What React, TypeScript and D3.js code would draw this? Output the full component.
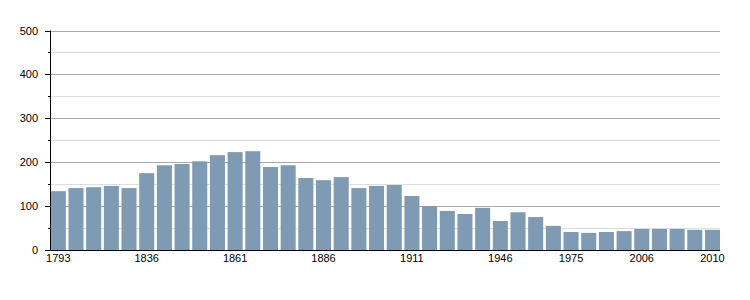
import React from "react";
import * as d3 from "d3";

const years = [
  "1793", "1800", "1806", "1821", "1831", "1836", "1841", "1846", "1851", "1856",
  "1861", "1866", "1872", "1876", "1881", "1886", "1891", "1896", "1901", "1906",
  "1911", "1921", "1926", "1931", "1936", "1946", "1954", "1962", "1968", "1975",
  "1982", "1990", "1999", "2006", "2007", "2008", "2009", "2010",
];
const population = [
  134, 141, 143, 146, 141, 175, 193, 196, 202, 216,
  223, 225, 189, 193, 164, 159, 166, 141, 146, 148,
  123, 100, 89, 82, 96, 66, 86, 75, 55, 41,
  39, 41, 43, 48, 48, 48, 46, 46,
];
const labeledYears = ["1793", "1836", "1861", "1886", "1911", "1946", "1975", "2006", "2010"];
const majorTicks = [0, 100, 200, 300, 400, 500];
const minorTicks = [50, 150, 250, 350, 450];

export default function App() {
  const W = 750, H = 300;
  const left = 50, right = 720, top = 30.5, bottom = 250;
  const x = d3.scaleBand<string>().domain(years).range([left + 0.8, right]).paddingInner(0.15).paddingOuter(0);
  const y = d3.scaleLinear().domain([0, 500]).range([bottom, top]);
  const font = "'Liberation Sans', Arial, Helvetica, sans-serif";
  return (
    <svg width={W} height={H} style={{ position: "absolute", left: 0, top: 0 }} fontFamily={font}>
      {minorTicks.map((t) => (
        <g key={"mi" + t}>
          <line x1={left} x2={right} y1={Math.round(y(t)) + 0.5} y2={Math.round(y(t)) + 0.5} stroke="#dddddd" />
          <line x1={left - 2} x2={left} y1={Math.round(y(t)) + 0.5} y2={Math.round(y(t)) + 0.5} stroke="#000" />
        </g>
      ))}
      {majorTicks.map((t) => (
        <g key={"ma" + t}>
          {t > 0 && <line x1={left} x2={right} y1={Math.round(y(t)) + 0.5} y2={Math.round(y(t)) + 0.5} stroke="#aaaaaa" />}
          <line x1={left - 5} x2={left} y1={Math.round(y(t)) + 0.5} y2={Math.round(y(t)) + 0.5} stroke="#000" />
          <text x={left - 12} y={y(t) + 4} textAnchor="end" fontSize={11} fill="#000">{t}</text>
        </g>
      ))}
      {years.map((yr, i) => (
        <rect key={yr} x={x(yr)} y={y(population[i])} width={x.bandwidth()} height={bottom - y(population[i])} fill="#7f9ab3" />
      ))}
      <line x1={left + 0.5} x2={left + 0.5} y1={top} y2={bottom} stroke="#000" />
      <line x1={left} x2={right} y1={bottom + 0.5} y2={bottom + 0.5} stroke="#000" />
      {labeledYears.map((yr) => (
        <text key={"l" + yr} x={(x(yr) as number) + x.bandwidth() / 2} y={262} textAnchor="middle" fontSize={11} fill="#000">{yr}</text>
      ))}
    </svg>
  );
}
